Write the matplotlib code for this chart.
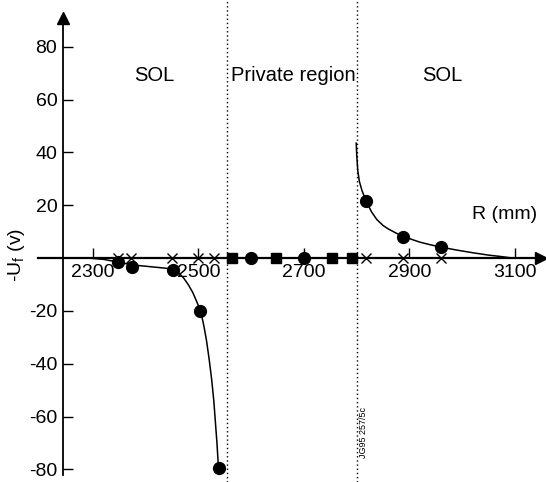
import matplotlib.pyplot as plt

plt.rcParams["font.family"] = ["Liberation Sans", "DejaVu Sans"]
plt.rcParams["axes.unicode_minus"] = False

# values (R in mm, -Uf in V)
circ_R = [2347, 2374, 2452, 2503, 2539, 2599, 2700, 2818, 2888, 2960]
circ_U = [-1.5, -3.4, -4.5, -20, -79.5, 0, 0, 21.5, 8, 4]
sq_R = [2563, 2647, 2753, 2791]
sq_U = [0, 0, 0, 0]
cross_R = [2347, 2372, 2450, 2500, 2530, 2818, 2888, 2960]
cross_U = [0, 0, 0, 0, 0, 0, 0, 0]

left_R = [2290, 2320, 2347, 2374, 2410, 2440, 2452, 2462, 2472, 2481, 2489, 2496,
          2504, 2510, 2515, 2520, 2525, 2529, 2532, 2535, 2538]
left_U = [0, -0.5, -1.5, -2.6, -3.3, -3.9, -4.5, -5.6, -7.6, -10.2, -13, -16.2,
          -20, -25.5, -31, -38, -46, -54, -62, -70, -80]
right_R = [2799, 2800, 2802, 2805, 2810, 2818, 2828, 2838, 2850, 2860, 2875, 2888,
           2905, 2920, 2940, 2958, 2990, 3020, 3050, 3072, 3095]
right_U = [43.5, 39, 33, 29, 25.5, 21.5, 17.5, 14.6, 12.3, 11, 9.4, 8.3,
           7, 6, 5, 4.2, 3, 2, 1.1, 0.6, 0]

separatrix = [2554, 2800]
xticks = [2300, 2500, 2700, 2900, 3100]
yticks = [-80, -60, -40, -20, 20, 40, 60, 80]

fig = plt.figure(figsize=(5.46, 4.82), dpi=100)
ax = fig.add_axes([0, 0, 1, 1])
ax.set_xlim(2123.7, 3158.8)
ax.set_ylim(-84.8, 97.7)

for s in ["top", "right"]:
    ax.spines[s].set_visible(False)
ax.spines["left"].set_position(("data", 2243))
ax.spines["bottom"].set_position(("data", 0))
ax.spines["left"].set_bounds(-82, 90)
ax.spines["bottom"].set_bounds(2196, 3150)
ax.spines["left"].set_linewidth(1.3)
ax.spines["bottom"].set_linewidth(1.6)

# arrow heads
ax.plot([2243], [91], marker="^", color="black", markersize=9, clip_on=False)
ax.plot([3150], [0], marker=">", color="black", markersize=9, clip_on=False)

ax.set_xticks(xticks)
ax.set_yticks(yticks)
ax.tick_params(axis="both", direction="in", length=7, width=1, labelsize=14)
ax.tick_params(axis="x", pad=4)
ax.tick_params(axis="y", pad=4)

for r in separatrix:
    ax.axvline(r, color="black", linestyle=(0, (1, 2)), linewidth=1)

ax.plot(left_R, left_U, color="black", linewidth=1.1)
ax.plot(right_R, right_U, color="black", linewidth=1.1)

ax.plot(cross_R, cross_U, "x", color="black", markersize=7, markeredgewidth=1, zorder=4)
ax.plot(circ_R, circ_U, "o", color="black", markersize=8.5, zorder=5, clip_on=False)
ax.plot(sq_R, sq_U, "s", color="black", markersize=7.5, zorder=5)

ax.text(2417, 69, "SOL", fontsize=14.5, ha="center", va="center")
ax.text(2680, 69, "Private region", fontsize=14.5, ha="center", va="center")
ax.text(2963, 69, "SOL", fontsize=14.5, ha="center", va="center")
ax.text(3080, 16.5, "R (mm)", fontsize=14, ha="center", va="center")
ax.text(2155, 1, "-U$_\\mathregular{f}$ (v)", fontsize=14, rotation=90,
        ha="center", va="center")
ax.text(2812, -66, "JG95 257/5c", fontsize=6.5, rotation=90, ha="center", va="center")

fig.savefig("out.png", dpi=100)
